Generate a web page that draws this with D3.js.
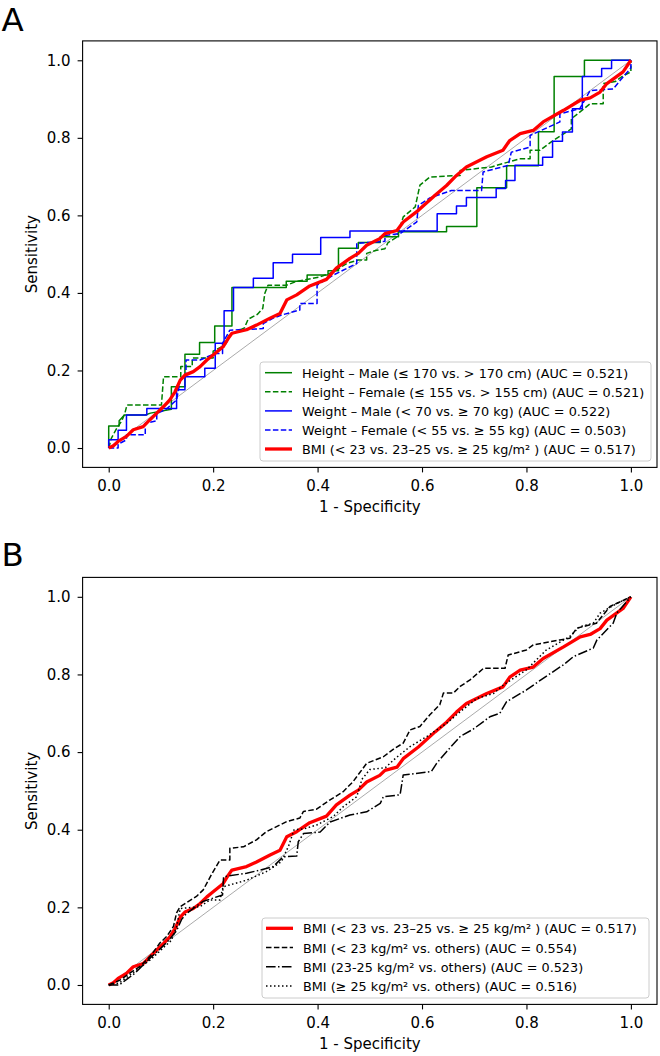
<!DOCTYPE html>
<html><head><meta charset="utf-8">
<script src="https://cdn.jsdelivr.net/npm/d3@7/dist/d3.min.js"></script>
<style>body{margin:0;background:#fff} text{font-family:"DejaVu Sans",sans-serif;fill:#000}</style>
</head><body><svg id="c" width="660" height="1056"></svg>
<script>
// ---------- data ----------
const xTicks = [0.0, 0.2, 0.4, 0.6, 0.8, 1.0];
const yTicks = [0.0, 0.2, 0.4, 0.6, 0.8, 1.0];

// Panel A
const heightMaleFpr = [0,0,0.02,0.02,0.03,0.07,0.08,0.12,0.12,0.146,0.146,0.174,0.174,0.203,0.203,0.236,0.236,0.34,0.34,0.38,0.38,0.42,0.42,0.44,0.44,0.478,0.478,0.52,0.52,0.555,0.555,0.647,0.647,0.705,0.705,0.762,0.762,0.823,0.823,0.853,0.853,0.911,0.911,1];
const heightMaleTpr = [0,0.057,0.057,0.07,0.085,0.085,0.09,0.10,0.158,0.158,0.242,0.242,0.272,0.272,0.315,0.315,0.414,0.414,0.43,0.43,0.446,0.446,0.457,0.457,0.515,0.515,0.53,0.53,0.545,0.545,0.558,0.558,0.571,0.571,0.671,0.671,0.728,0.728,0.816,0.816,0.958,0.958,1,1];

const heightFemaleFpr = [0,0.005,0.015,0.025,0.031,0.035,0.101,0.105,0.138,0.138,0.16,0.16,0.2,0.2,0.215,0.225,0.23,0.26,0.267,0.285,0.295,0.299,0.305,0.341,0.36,0.404,0.43,0.456,0.478,0.494,0.494,0.513,0.529,0.535,0.552,0.564,0.587,0.596,0.615,0.673,0.673,0.733,0.787,0.807,0.807,0.826,0.851,0.886,0.886,0.922,0.947,0.947,0.97,0.985,1,1];
const heightFemaleTpr = [0,0.025,0.05,0.07,0.09,0.111,0.111,0.184,0.184,0.21,0.21,0.232,0.232,0.25,0.26,0.27,0.29,0.31,0.332,0.345,0.36,0.399,0.42,0.42,0.43,0.441,0.454,0.476,0.485,0.485,0.502,0.51,0.514,0.53,0.544,0.596,0.622,0.678,0.699,0.703,0.716,0.725,0.746,0.746,0.768,0.768,0.793,0.823,0.849,0.888,0.888,0.94,0.945,0.96,0.97,1];

const weightMaleFpr = [0,0,0.018,0.018,0.034,0.034,0.073,0.073,0.13,0.13,0.146,0.146,0.184,0.184,0.204,0.204,0.221,0.221,0.239,0.239,0.277,0.277,0.315,0.315,0.352,0.352,0.406,0.406,0.462,0.462,0.629,0.629,0.666,0.666,0.685,0.685,0.742,0.742,0.760,0.760,0.778,0.778,0.831,0.831,0.850,0.850,0.869,0.869,0.888,0.888,0.907,0.907,0.944,0.944,0.963,0.963,1];
const weightMaleTpr = [0,0.021,0.021,0.046,0.046,0.085,0.085,0.102,0.102,0.15,0.15,0.184,0.184,0.206,0.206,0.27,0.27,0.354,0.354,0.414,0.414,0.438,0.438,0.478,0.478,0.5,0.5,0.543,0.543,0.56,0.56,0.604,0.604,0.624,0.624,0.646,0.646,0.669,0.669,0.69,0.69,0.729,0.729,0.75,0.75,0.791,0.791,0.815,0.815,0.875,0.875,0.958,0.958,0.979,0.979,1,1];

const weightFemaleFpr = [0,0.018,0.018,0.034,0.034,0.07,0.07,0.092,0.092,0.11,0.13,0.137,0.148,0.148,0.175,0.204,0.218,0.218,0.232,0.296,0.296,0.315,0.331,0.366,0.366,0.399,0.399,0.43,0.475,0.475,0.529,0.529,0.558,0.590,0.593,0.615,0.656,0.714,0.717,0.765,0.771,0.807,0.807,0.864,0.864,0.902,0.922,0.966,0.985,1,1];
const weightFemaleTpr = [0,0,0.01,0.021,0.034,0.034,0.064,0.07,0.089,0.1,0.124,0.175,0.188,0.227,0.227,0.244,0.244,0.27,0.304,0.308,0.321,0.335,0.343,0.356,0.373,0.373,0.42,0.446,0.476,0.528,0.533,0.548,0.553,0.583,0.626,0.645,0.664,0.664,0.712,0.729,0.763,0.776,0.806,0.841,0.862,0.875,0.922,0.926,0.957,0.98,1];

// BMI three-category (shared by A and B)
const bmiFpr = [0,0.009,0.018,0.034,0.047,0.066,0.079,0.092,0.105,0.117,0.127,0.137,0.146,0.162,0.175,0.188,0.2,0.219,0.229,0.236,0.264,0.283,0.309,0.328,0.341,0.36,0.385,0.417,0.436,0.462,0.478,0.494,0.519,0.529,0.552,0.564,0.593,0.625,0.647,0.666,0.685,0.724,0.755,0.768,0.788,0.813,0.832,0.871,0.903,0.922,0.941,0.954,0.985,1];
const bmiTpr = [0,0.006,0.017,0.03,0.047,0.055,0.073,0.09,0.107,0.124,0.145,0.175,0.188,0.197,0.21,0.227,0.24,0.261,0.283,0.296,0.305,0.317,0.335,0.347,0.382,0.395,0.418,0.435,0.464,0.489,0.502,0.523,0.54,0.553,0.561,0.583,0.613,0.652,0.677,0.703,0.725,0.751,0.768,0.793,0.811,0.819,0.841,0.871,0.897,0.903,0.918,0.94,0.97,1];

// Panel B
const bmiLow23Fpr = [0,0.009,0.022,0.041,0.06,0.079,0.098,0.111,0.124,0.13,0.137,0.168,0.181,0.197,0.213,0.232,0.232,0.258,0.283,0.302,0.341,0.366,0.373,0.398,0.424,0.449,0.468,0.494,0.526,0.548,0.564,0.577,0.596,0.615,0.634,0.641,0.66,0.673,0.692,0.718,0.759,0.765,0.8,0.813,0.864,0.883,0.896,0.934,0.96,1];
const bmiLow23Tpr = [0,0.005,0.013,0.031,0.048,0.073,0.108,0.125,0.151,0.186,0.202,0.228,0.245,0.285,0.322,0.322,0.352,0.356,0.374,0.395,0.421,0.43,0.447,0.453,0.477,0.498,0.524,0.571,0.588,0.61,0.623,0.657,0.666,0.696,0.722,0.752,0.752,0.769,0.786,0.816,0.816,0.85,0.863,0.876,0.889,0.893,0.919,0.932,0.975,1];

const bmiMid2325Fpr = [0,0.02,0.035,0.05,0.065,0.08,0.1,0.115,0.13,0.14,0.149,0.18,0.218,0.22,0.264,0.29,0.315,0.334,0.36,0.363,0.373,0.405,0.424,0.462,0.494,0.52,0.526,0.558,0.564,0.618,0.628,0.647,0.673,0.698,0.73,0.749,0.762,0.8,0.832,0.871,0.89,0.928,0.935,0.966,0.973,1];
const bmiMid2325Tpr = [0,0,0.015,0.03,0.05,0.07,0.095,0.115,0.14,0.17,0.184,0.215,0.232,0.279,0.288,0.296,0.305,0.33,0.332,0.369,0.39,0.394,0.42,0.438,0.446,0.468,0.485,0.49,0.541,0.55,0.571,0.601,0.64,0.659,0.691,0.7,0.73,0.76,0.79,0.825,0.846,0.868,0.889,0.932,0.958,1];

const bmiHigh25Fpr = [0,0.02,0.04,0.06,0.08,0.1,0.12,0.13,0.137,0.175,0.194,0.213,0.219,0.264,0.302,0.331,0.345,0.355,0.373,0.398,0.43,0.449,0.475,0.485,0.5,0.53,0.55,0.577,0.609,0.647,0.673,0.705,0.737,0.756,0.8,0.838,0.883,0.902,0.928,0.941,0.973,1];
const bmiHigh25Tpr = [0,0.005,0.025,0.045,0.065,0.09,0.115,0.15,0.197,0.202,0.219,0.219,0.253,0.27,0.292,0.318,0.36,0.40,0.402,0.412,0.434,0.459,0.485,0.53,0.555,0.56,0.585,0.614,0.64,0.674,0.704,0.738,0.751,0.773,0.812,0.863,0.898,0.923,0.932,0.958,0.983,1];

const seriesA = [
  {name:"Height – Male (≤ 170 vs. > 170 cm) (AUC = 0.521)", fpr:heightMaleFpr, tpr:heightMaleTpr, color:"#008000", w:1.5, dash:null},
  {name:"Height – Female (≤ 155 vs. > 155 cm) (AUC = 0.521)", fpr:heightFemaleFpr, tpr:heightFemaleTpr, color:"#008000", w:1.5, dash:"5.5,2.4"},
  {name:"Weight – Male (< 70 vs. ≥ 70 kg) (AUC = 0.522)", fpr:weightMaleFpr, tpr:weightMaleTpr, color:"#0000ff", w:1.5, dash:null},
  {name:"Weight – Female (< 55 vs. ≥ 55 kg) (AUC = 0.503)", fpr:weightFemaleFpr, tpr:weightFemaleTpr, color:"#0000ff", w:1.5, dash:"5.5,2.4"},
  {name:"BMI (< 23 vs. 23–25 vs. ≥ 25 kg/m² ) (AUC = 0.517)", fpr:bmiFpr, tpr:bmiTpr, color:"#ff0000", w:3.3, dash:null}
];
const seriesB = [
  {name:"BMI (< 23 vs. 23–25 vs. ≥ 25 kg/m² ) (AUC = 0.517)", fpr:bmiFpr, tpr:bmiTpr, color:"#ff0000", w:3.3, dash:null},
  {name:"BMI (< 23 kg/m²  vs. others) (AUC = 0.554)", fpr:bmiLow23Fpr, tpr:bmiLow23Tpr, color:"#000", w:1.5, dash:"5.5,2.4"},
  {name:"BMI (23-25 kg/m²  vs. others) (AUC = 0.523)", fpr:bmiMid2325Fpr, tpr:bmiMid2325Tpr, color:"#000", w:1.5, dash:"9.6,2.4,1.5,2.4"},
  {name:"BMI (≥ 25 kg/m²  vs. others) (AUC = 0.516)", fpr:bmiHigh25Fpr, tpr:bmiHigh25Tpr, color:"#000", w:1.5, dash:"1.5,2.5"}
];

// ---------- drawing ----------
const svg = d3.select("#c");
const X0 = 82.6, X1 = 657;

function panel(letter, letterY, top, bottom, series, legend) {
  const x = d3.scaleLinear().domain([-0.05, 1.05]).range([X0, X1]);
  const y = d3.scaleLinear().domain([-0.05, 1.05]).range([bottom, top]);
  const g = svg.append("g");

  g.append("text").attr("x", 1.5).attr("y", letterY).style("font-size", "32.5px").text(letter);

  // diagonal
  g.append("line").attr("x1", x(0)).attr("y1", y(0)).attr("x2", x(1)).attr("y2", y(1))
    .attr("stroke", "#a0a0a0").attr("stroke-width", 0.9);

  const line = d3.line().x(d => x(d[0])).y(d => y(d[1]));
  series.forEach(s => {
    const pts = s.fpr.map((f, i) => [f, s.tpr[i]]);
    g.append("path").attr("d", line(pts)).attr("fill", "none")
      .attr("stroke", s.color).attr("stroke-width", s.w)
      .attr("stroke-dasharray", s.dash).attr("stroke-linejoin", "round");
  });

  // axes
  const ax = g.append("g").attr("transform", `translate(0,${bottom})`)
    .call(d3.axisBottom(x).tickValues(xTicks).tickFormat(d3.format(".1f")).tickSize(5).tickPadding(8));
  const ay = g.append("g").attr("transform", `translate(${X0},0)`)
    .call(d3.axisLeft(y).tickValues(yTicks).tickFormat(d3.format(".1f")).tickSize(5).tickPadding(7));
  [ax, ay].forEach(a => {
    a.select(".domain").remove();
    a.selectAll("line").attr("stroke", "#000").attr("stroke-width", 1.1);
    a.selectAll("text").style("font-size", "15px").attr("fill", "#000")
      .style("font-family", '"DejaVu Sans", sans-serif');
  });
  g.append("rect").attr("x", X0).attr("y", top).attr("width", X1 - X0).attr("height", bottom - top)
    .attr("fill", "none").attr("stroke", "#000").attr("stroke-width", 1.1);

  g.append("text").attr("x", (X0 + X1) / 2).attr("y", bottom + 44.5).attr("text-anchor", "middle")
    .style("font-size", "15px").text("1 - Specificity");
  g.append("text").attr("transform", `translate(37.3,${(top + bottom) / 2}) rotate(-90)`)
    .attr("text-anchor", "middle").style("font-size", "15px").text("Sensitivity");

  // legend
  const L = legend;
  g.append("rect").attr("x", L.x0).attr("y", L.y0).attr("width", L.x1 - L.x0).attr("height", L.y1 - L.y0)
    .attr("rx", 3).attr("fill", "#fff").attr("fill-opacity", 0.85).attr("stroke", "#cccccc").attr("stroke-width", 1);
  series.forEach((s, i) => {
    const cy = L.rows[i];
    g.append("line").attr("x1", L.hx0).attr("x2", L.hx1).attr("y1", cy).attr("y2", cy)
      .attr("stroke", s.color).attr("stroke-width", s.w).attr("stroke-dasharray", s.dash);
    g.append("text").attr("x", L.tx).attr("y", cy + 5).style("font-size", "12.8px").text(s.name);
  });
}

panel("A", 30.5, 40.9, 467.4, seriesA,
  {x0: 260, x1: 651, y0: 362, y1: 461, hx0: 265, hx1: 292, tx: 302, rows: [372.7, 391.7, 410.9, 430, 449]});
panel("B", 566, 577.4, 1004.4, seriesB,
  {x0: 262, x1: 649, y0: 918, y1: 998, hx0: 266, hx1: 293, tx: 303, rows: [928.3, 947.5, 966.8, 986]});
</script></body></html>
